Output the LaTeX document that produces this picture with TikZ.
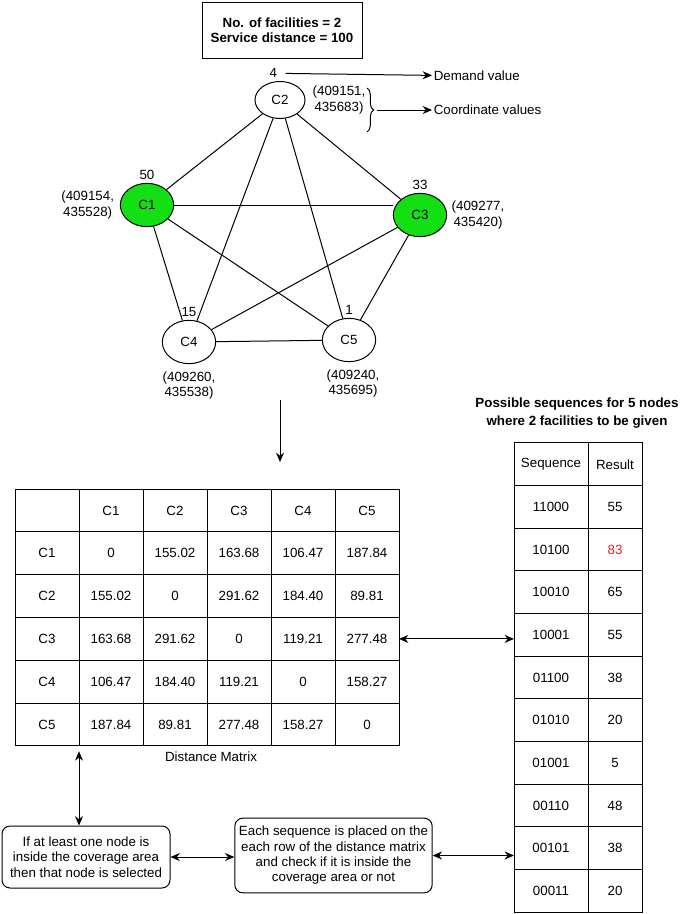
\documentclass[tikz,border=0pt]{standalone}
\usepackage{fontspec}
\setmainfont{Liberation Sans}
\usetikzlibrary{shapes.geometric,positioning,arrows.meta,decorations.pathreplacing}
\definecolor{selgreen}{RGB}{20,222,20}
\definecolor{bestred}{RGB}{228,38,38}

\begin{document}
\begin{tikzpicture}[x=0.75pt,y=-0.75pt,font=\fontsize{10}{11.5}\selectfont,line width=0.75pt,
	every node/.style={inner sep=1pt},
	site/.style={ellipse,draw,minimum width=40pt,minimum height=32.5pt},
	sel/.style={site,fill=selgreen},
	cell/.style={draw,outer sep=0pt,minimum width=48pt,minimum height=32.1pt},
	seqcell/.style={draw,outer sep=0pt,minimum width=55.5pt,minimum height=32pt},
	rescell/.style={draw,outer sep=0pt,minimum width=40.5pt,minimum height=32pt},
	stepbox/.style={draw,rounded corners=6pt,align=center},
	arr/.style={-{Stealth[length=7pt,width=6pt]}},
	darr/.style={{Stealth[length=7pt,width=6pt]}-{Stealth[length=7pt,width=6pt]}}]
	\useasboundingbox (0,0) rectangle (685,914);
			\node[draw,align=center,font=\bfseries\fontsize{10}{11.25}\selectfont,minimum width=120pt,minimum height=42pt] (info) at (282,30) {No. of facilities = 2\\Service distance = 100};
			\node[site,minimum width=37.5pt,minimum height=27.75pt] (c2) at (280,100) {C2};
			\node[sel] (c1) at (147,205) {C1};
			\node[sel] (c3) at (420,215) {C3};
			\node[site] (c4) at (189,342) {C4};
			\node[site] (c5) at (349,340) {C5};
				\path (c1) edge (c2) edge (c1 -| c3.west) edge (c4) edge (c5);
				\path (c2) edge (c3) edge (c4) edge (c5);
				\path (c3) edge (c4) edge (c5);
				\path (c4) edge (c5);
			\node (d2) [above=1pt of c2,xshift=-5pt] {4};
			\node (d1) [above=1pt of c1] {50};
			\node (d3) [above=1pt of c3] {33};
			\node (d4) [above=1pt of c4] {15};
			\node (d5) [above=1pt of c5] {1};
			\node[align=center] (x2) [right=4pt of c2] {(409151,\\435683)};
			\node[align=center] (x1) [left=3pt of c1] {(409154,\\435528)};
			\node[align=center] (x3) [right=2pt of c3] {(409277,\\435420)};
			\node[align=center] (x4) [below=4pt of c4] {(409260,\\435538)};
			\node[align=center] (x5) [below=4pt of c5,xshift=3pt] {(409240,\\435695)};
			\draw[decorate,decoration={brace,amplitude=5pt}] (367,88) -- (367,132);
			\coordinate (bt) at (374,110);
			\node[anchor=west] (dv) at (432,76) {Demand value};
			\node[anchor=west] (cv) at (432,110) {Coordinate values};
				\draw[arr,shorten <=5pt] (d2) -- (dv);
				\draw[arr,shorten <=2pt] (bt) -- (cv);
			\coordinate (g1) at (280,400);
			\coordinate (g2) at (280,462);
				\draw[arr] (g1) -- (g2);
			\foreach \r/\row in {0/{{},C1,C2,C3,C4,C5},
					1/{C1,0,155.02,163.68,106.47,187.84},
					2/{C2,155.02,0,291.62,184.40,89.81},
					3/{C3,163.68,291.62,0,119.21,277.48},
					4/{C4,106.47,184.40,119.21,0,158.27},
					5/{C5,187.84,89.81,277.48,158.27,0}}
				\foreach \v [count=\c from 0] in \row
					\node[cell] (m-\r-\c) at ({47+64*\c},{489+42.83*(\r+0.5)}) {\v};
			\node (dmcap) at (211,757) {Distance Matrix};
			\node[align=center,font=\bfseries\fontsize{10}{13.5}\selectfont] (stitle) at (577,413) {Possible sequences for 5 nodes\\where 2 facilities to be given};
			\foreach \s/\v [count=\r from 0] in {Sequence/Result,11000/55,10100/\textcolor{bestred}{83},10010/65,10001/55,01100/38,01010/20,01001/5,00110/48,00101/38,00011/20}{
				\node[seqcell] (s-\r-1) at (551,{443+42.64*(\r+0.5)}) {\s};
				\node[rescell] (s-\r-2) at (615,{443+42.64*(\r+0.5)}) {\v};
			}
			\node[stepbox,minimum width=126pt,minimum height=46.5pt] (b1) at (86,857) {If at least one node is\\inside the coverage area\\then that node is selected};
			\node[stepbox,minimum width=148pt,minimum height=56pt] (b2) at (333.5,855.5) {Each sequence is placed on the\\each row of the distance matrix\\and check if it is inside the\\coverage area or not};
				\draw[darr] (m-3-5.east) -- (m-3-5.east -| s-4-1.west);
				\draw[darr,shorten <=4pt] (m-5-0.south east) -- (m-5-0.south east |- b1.north);
				\draw[darr] (b1.east) -- (b1.east -| b2.west);
				\draw[darr] (b2.east) -- (b2.east -| s-9-1.west);
\end{tikzpicture}
\end{document}
